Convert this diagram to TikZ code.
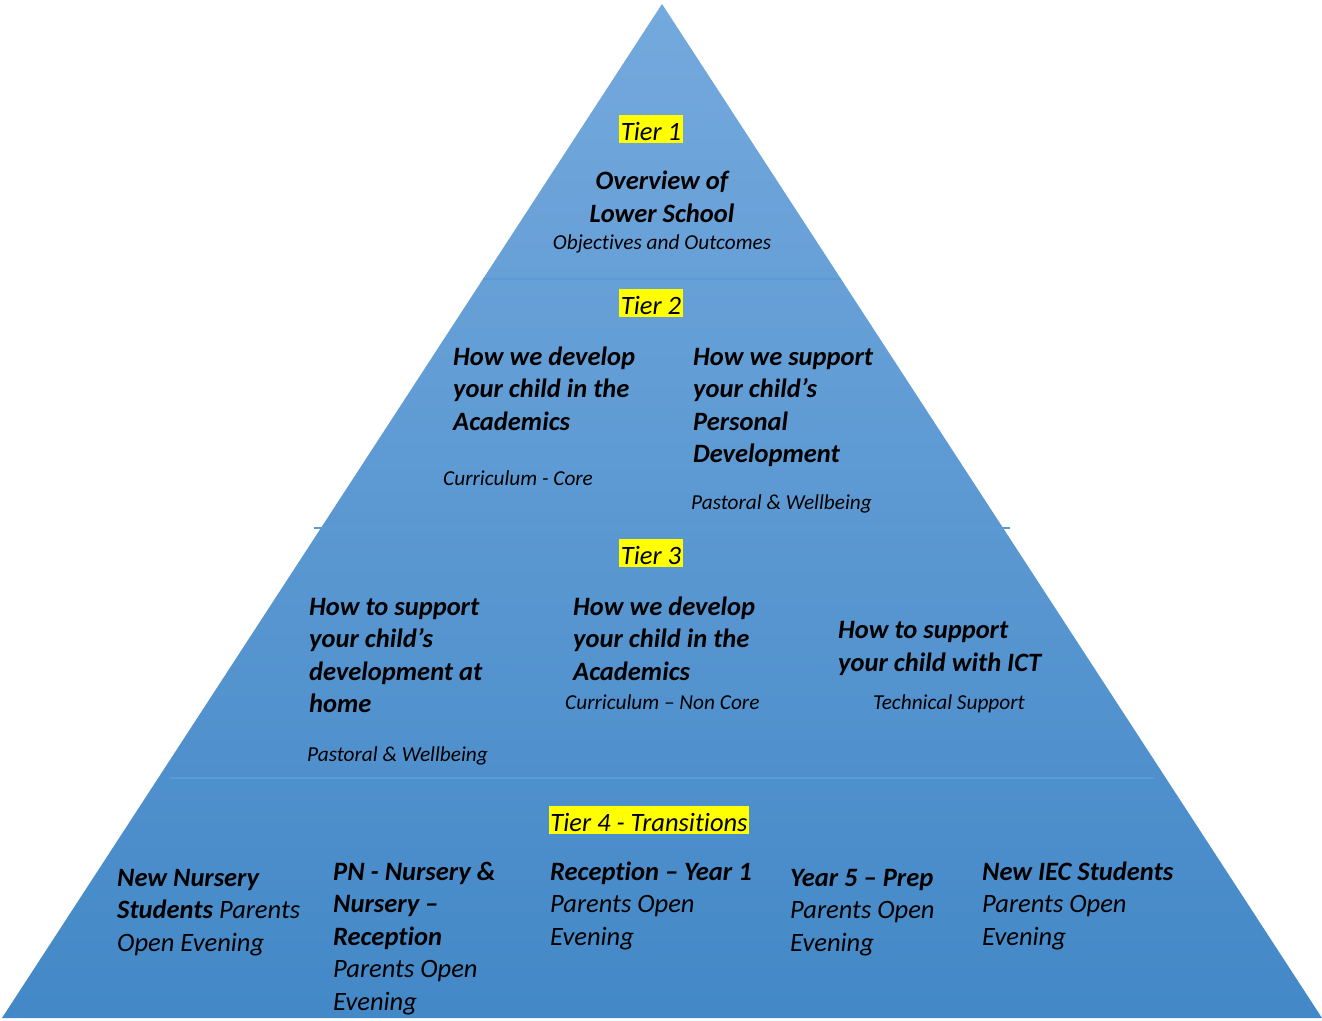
\documentclass[tikz,border=0pt]{standalone}
\usepackage{fontspec}
\setmainfont[Ligatures={TeX,NoCommon}]{Carlito}
\definecolor{pyramidtop}{RGB}{116, 169, 221}
\definecolor{pyramidbottom}{RGB}{67, 136, 199}
\definecolor{tierline}{RGB}{91, 155, 213}
\definecolor{marker}{RGB}{255, 255, 0}
\tikzset{
  % multi-line nodes: base is the baseline of the last line
  head/.style={anchor=base west, inner sep=0pt, align=left,
    font=\fontsize{26.5}{32.5}\selectfont\itshape\bfseries},
  item/.style={anchor=base west, inner sep=0pt, align=left,
    font=\fontsize{26.5}{32.5}\selectfont\itshape},
  note/.style={anchor=base west, inner sep=0pt,
    font=\fontsize{21.3}{26}\selectfont\itshape},
  tierlabel/.style={anchor=base, fill=marker, inner xsep=1.5pt, inner ysep=0pt,
    text height=25pt, text depth=3pt, font=\fontsize{26.5}{32.5}\selectfont\itshape},
}
\begin{document}
\begin{tikzpicture}[x=1pt, y=-1pt]
  \useasboundingbox (0,0) rectangle (1322,1020);
  % Pyramid
  \shade[top color=pyramidtop, bottom color=pyramidbottom] (662,4) -- (2,1018) -- (1322,1018) -- cycle;
  % Tier dividers
  \draw[color=tierline, line width=2pt] (483,279) -- (841,279);
  \draw[color=tierline, line width=2pt] (314,528) -- (1010,528);
  \draw[color=tierline, line width=2pt] (170,778) -- (1154,778);

  % Tier 1
  \node[tierlabel] (tierone) at (651,140) {Tier 1};
  \node[head, anchor=base, align=center] (overview) at (662,222) {Overview of\\Lower School};
  \node[note, anchor=base] (objectives) at (662,249) {Objectives and Outcomes};

  % Tier 2
  \node[tierlabel] (tiertwo) at (651,314) {Tier 2};
  \node[head] (academics) at (453,430) {How we develop\\your child in the\\Academics};
  \node[note] (core) at (443,485) {Curriculum - Core};
  \node[head] (personal) at (693,462.5) {How we support\\your child’s\\Personal\\Development};
  \node[note] (pastoral) at (691,509) {Pastoral \& Wellbeing};

  % Tier 3
  \node[tierlabel] (tierthree) at (651,564) {Tier 3};
  \node[head] (home) at (309,712.5) {How to support\\your child’s\\development at\\home};
  \node[note] (wellbeing) at (307,761) {Pastoral \& Wellbeing};
  \node[head] (noncore) at (573,680) {How we develop\\your child in the\\Academics};
  \node[note] (curriculum) at (565,709) {Curriculum – Non Core};
  \node[head] (ict) at (838,671) {How to support\\your child with ICT};
  \node[note] (technical) at (873,709) {Technical Support};

  % Tier 4
  \node[tierlabel] (tierfour) at (649,831) {Tier 4 - Transitions};
  \node[item] (nursery) at (117,951) {\textbf{New Nursery}\\\textbf{Students} Parents\\Open Evening};
  \node[item] (reception) at (333,1010) {\textbf{PN - Nursery \&}\\\textbf{Nursery –}\\\textbf{Reception}\\Parents Open\\Evening};
  \node[item] (yearone) at (550,945) {\textbf{Reception – Year 1}\\Parents Open\\Evening};
  \node[item] (prep) at (790,951) {\textbf{Year 5 – Prep}\\Parents Open\\Evening};
  \node[item] (iec) at (982,945) {\textbf{New IEC Students}\\Parents Open\\Evening};
\end{tikzpicture}
\end{document}
